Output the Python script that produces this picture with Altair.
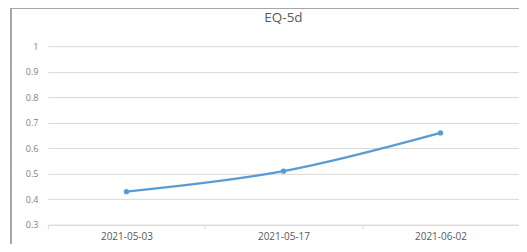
import altair as alt
import pandas as pd

dates = ["2021-05-03", "2021-05-17", "2021-06-02"]
values = [0.43, 0.51, 0.66]
y_ticks = [0.3, 0.4, 0.5, 0.6, 0.7, 0.8, 0.9, 1.0]
title_text = ["EQ-5d"]

df = pd.DataFrame({"date": dates, "value": values})
tdf = pd.DataFrame({"t": title_text})

FONT = "Open Sans"
TXT = "#595959"

x_enc = alt.X("date:N", sort=dates, title=None,
              scale=alt.Scale(paddingInner=0, paddingOuter=0),
              axis=alt.Axis(labelAngle=0, tickBand="extent", grid=False,
                            domain=True, domainColor="#d9d9d9", ticks=True,
                            tickColor="#d9d9d9", tickSize=4, labelPadding=3,
                            labelColor=TXT, labelFont=FONT, labelFontSize=10))
y_enc = alt.Y("value:Q", title=None,
              scale=alt.Scale(domain=[0.3, 1.0], nice=False, zero=False),
              axis=alt.Axis(values=y_ticks, format="~g", domain=False, ticks=False,
                            grid=True, gridColor="#d9d9d9", gridWidth=1,
                            labelOverlap=False,
                            labelPadding=10, labelColor="#7f7f7f", labelFont=FONT,
                            labelFontSize=9))

border = alt.Chart(df).mark_rect(fillOpacity=0, stroke="#a6a6a6", strokeWidth=1.5, clip=False).encode(
    x=alt.value(-37), x2=alt.value(600), y=alt.value(-38), y2=alt.value(400)
)

title = alt.Chart(tdf).mark_text(font=FONT, fontSize=13.5, color=TXT, baseline="middle",
                                 align="center").encode(
    text="t:N", x=alt.value(236), y=alt.value(-28)
)

line = alt.Chart(df).mark_line(color="#5b9bd5", strokeWidth=2.25, interpolate="catmull-rom").encode(
    x=x_enc, y=y_enc
)
pts = alt.Chart(df).mark_point(filled=True, color="#5b9bd5", size=28, opacity=1).encode(
    x=x_enc, y=y_enc
)

chart = alt.layer(border, title, line, pts).properties(
    width=472, height=179,
    padding={"left": 40, "top": 38, "right": 0, "bottom": 19},
    autosize=alt.AutoSizeParams(type="none"),
).configure_view(stroke=None)

chart.save("out.html", embed_options={"renderer": "svg", "actions": False})
